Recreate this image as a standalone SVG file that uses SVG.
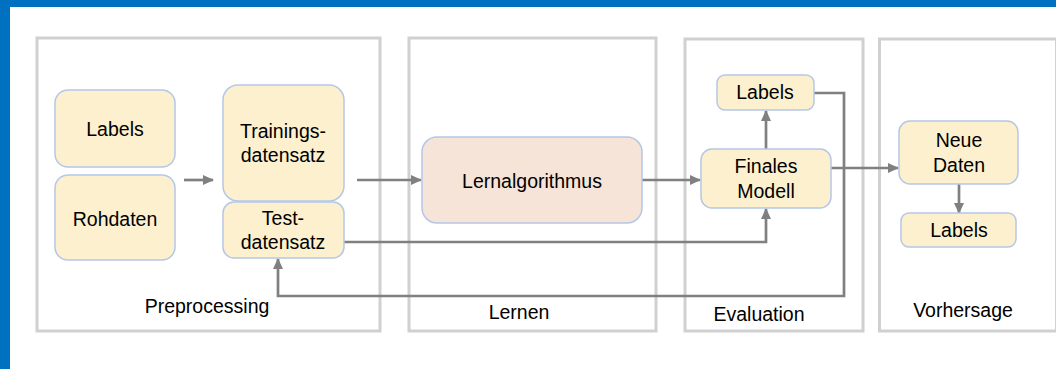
<svg xmlns="http://www.w3.org/2000/svg" width="1056" height="369" viewBox="0 0 1056 369">
<style>
.panel{fill:#fff;stroke:#d0d0d0;stroke-width:3}
.node{fill:#fcf0cf;stroke:#b4c7e7;stroke-width:1.5}
.algo{fill:#f6e4d8;stroke:#b4c7e7;stroke-width:1.5}
text{font-family:"Liberation Sans",Arial,sans-serif;font-size:19.5px;fill:#000;text-anchor:middle}
.conn{fill:none;stroke:#808080;stroke-width:2.7;marker-end:url(#ah)}
</style>
<defs>
<marker id="ah" markerUnits="userSpaceOnUse" markerWidth="12" markerHeight="10" refX="10" refY="5" orient="auto">
<path d="M0,0 L11,5 L0,10 Z" fill="#808080"/>
</marker>
</defs>
<rect x="0" y="0" width="1056" height="369" fill="#fff"/>
<rect x="0" y="0" width="1056" height="7" fill="#0070c0"/>
<rect x="0" y="0" width="10" height="369" fill="#0070c0"/>
<g id="panels">
<g id="p-preprocessing"><rect class="panel" x="37" y="38" width="343" height="293"/><text x="207" y="313">Preprocessing</text></g>
<g id="p-lernen"><rect class="panel" x="409" y="38" width="247" height="293"/><text x="519" y="319">Lernen</text></g>
<g id="p-evaluation"><rect class="panel" x="685" y="39" width="178" height="292"/><text x="759" y="321">Evaluation</text></g>
<g id="p-vorhersage"><rect class="panel" x="879.5" y="39" width="177" height="292"/><text x="963" y="317">Vorhersage</text></g>
</g>
<g id="connectors">
<path class="conn" d="M184,180 H213"/>
<path class="conn" d="M357,180 H421"/>
<path class="conn" d="M642,180 H700"/>
<path class="conn" d="M344,242 H766 V209"/>
<path class="conn" d="M766,149 V111"/>
<path class="conn" d="M814,93 H844 V296 H278 V259"/>
<path class="conn" d="M831,168 H898"/>
<path class="conn" d="M959,184 V213"/>
</g>
<g id="n-labels1"><rect class="node" x="55" y="90" width="120" height="77" rx="13"/><text x="115" y="136">Labels</text></g>
<g id="n-rohdaten"><rect class="node" x="55" y="175" width="120" height="85" rx="13"/><text x="115" y="226">Rohdaten</text></g>
<g id="n-training"><rect class="node" x="223" y="85" width="121" height="116" rx="15"/><text x="283" y="138">Trainings-</text><text x="283" y="162">datensatz</text></g>
<g id="n-test"><rect class="node" x="223" y="202" width="121" height="56" rx="11"/><text x="283" y="225">Test-</text><text x="283" y="249">datensatz</text></g>
<g id="n-lernalgorithmus"><rect class="algo" x="422" y="137" width="220" height="86" rx="15"/><text x="532" y="188">Lernalgorithmus</text></g>
<g id="n-labels2"><rect class="node" x="717" y="75" width="97" height="35" rx="8"/><text x="765" y="99">Labels</text></g>
<g id="n-finales"><rect class="node" x="701" y="149" width="130" height="59" rx="11"/><text x="766" y="173">Finales</text><text x="766" y="198">Modell</text></g>
<g id="n-neue"><rect class="node" x="899" y="121" width="119" height="63" rx="11"/><text x="959" y="147">Neue</text><text x="959" y="172">Daten</text></g>
<g id="n-labels3"><rect class="node" x="901" y="213" width="115" height="34" rx="8"/><text x="959" y="237">Labels</text></g>
</svg>
